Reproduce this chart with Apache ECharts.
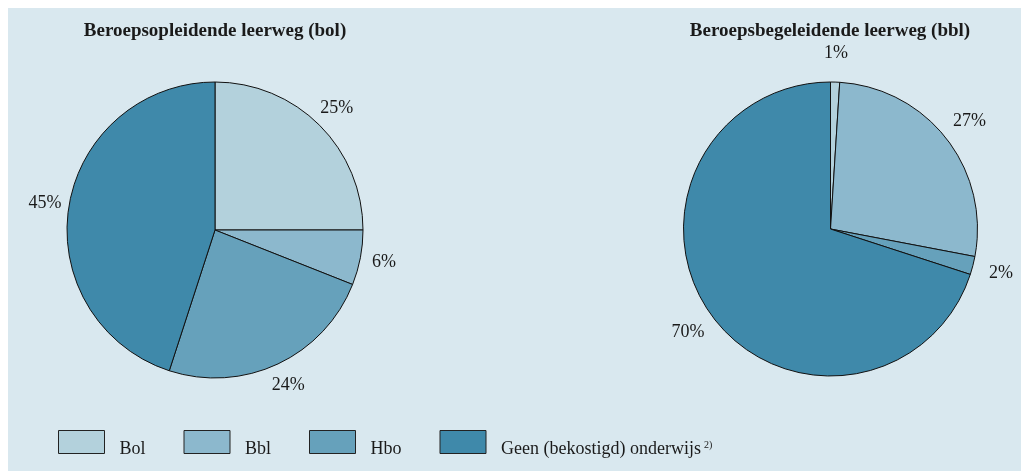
<!DOCTYPE html>
<html lang="nl">
<head>
<meta charset="UTF-8">
<title>Bol en bbl</title>
<style>
  html, body { margin: 0; padding: 0; background: #fff; }
  #main { width: 1021px; height: 471px; }
</style>
</head>
<body>
<div id="main"></div>
<script src="https://cdn.jsdelivr.net/npm/echarts@6/dist/echarts.min.js"></script>
<script>
// categorieën en aandelen in procenten
var categories = ['Bol', 'Bbl', 'Hbo', 'Geen (bekostigd) onderwijs'];
var bolValues = [25, 6, 24, 45];
var bblValues = [1, 27, 2, 70];
var titles = ['Beroepsopleidende leerweg (bol)', 'Beroepsbegeleidende leerweg (bbl)'];
var colors = ['#b3d1dc', '#8cb8cd', '#66a1bb', '#3f89aa'];

var font = '"Liberation Serif", "Times New Roman", serif';
var ink = '#1a1a1a';

function toData(values) {
    return categories.map(function (c, i) {
        return { name: c, value: values[i] };
    });
}

// de taart zelf
function pie(values, center, r) {
    return {
        type: 'pie',
        center: center,
        radius: r,
        startAngle: 90,
        clockwise: true,
        data: toData(values),
        itemStyle: { borderColor: '#111', borderWidth: 1 },
        label: { show: false },
        labelLine: { show: false },
        emphasis: { disabled: true },
        silent: true
    };
}

// onzichtbare ring die alleen de percentages draagt
function labelRing(values, center, r0, r1) {
    return {
        type: 'pie',
        center: center,
        radius: [r0, r1],
        startAngle: 90,
        clockwise: true,
        data: toData(values),
        itemStyle: { color: 'rgba(0,0,0,0)', borderWidth: 0 },
        label: {
            show: true,
            position: 'inside',
            formatter: '{c}%',
            fontFamily: font,
            fontSize: 18,
            color: ink
        },
        labelLine: { show: false },
        emphasis: { disabled: true },
        legendHoverLink: false,
        silent: true
    };
}

var myChart = echarts.init(document.getElementById('main'));

var titleStyle = { fontFamily: font, fontSize: 19, fontWeight: 'bold', color: ink };

var option = {
    animation: false,
    color: colors,
    graphic: [{
        type: 'rect',
        z: -10,
        silent: true,
        shape: { x: 8, y: 8, width: 1013, height: 463 },
        style: { fill: '#d9e8ef' }
    }],
    title: [{
        text: titles[0],
        left: 215,
        top: 22,
        padding: 0,
        textAlign: 'center',
        textStyle: titleStyle
    }, {
        text: titles[1],
        left: 830,
        top: 22,
        padding: 0,
        textAlign: 'center',
        textStyle: titleStyle
    }],
    legend: {
        left: 58,
        top: 430,
        padding: 0,
        icon: 'rect',
        itemWidth: 46,
        itemHeight: 23,
        itemGap: 38,
        selectedMode: false,
        data: categories,
        itemStyle: { borderColor: '#222', borderWidth: 1 },
        textStyle: {
            fontFamily: font,
            fontSize: 18,
            color: ink,
            padding: [14, 0, 0, 10],
            rich: {
                sup: { fontFamily: font, fontSize: 10, color: ink, verticalAlign: 'top', padding: [0, 0, 8, 3] }
            }
        },
        formatter: function (name) {
            return name === categories[3] ? name + '{sup|2)}' : name;
        }
    },
    series: [
        pie(bolValues, [215, 230], 148),
        pie(bblValues, [830.5, 229], 147),
        labelRing(bolValues, [215, 230], 150, 188),
        labelRing(bblValues, [830.5, 229], 150, 196)
    ]
};

myChart.setOption(option);
</script>
</body>
</html>
